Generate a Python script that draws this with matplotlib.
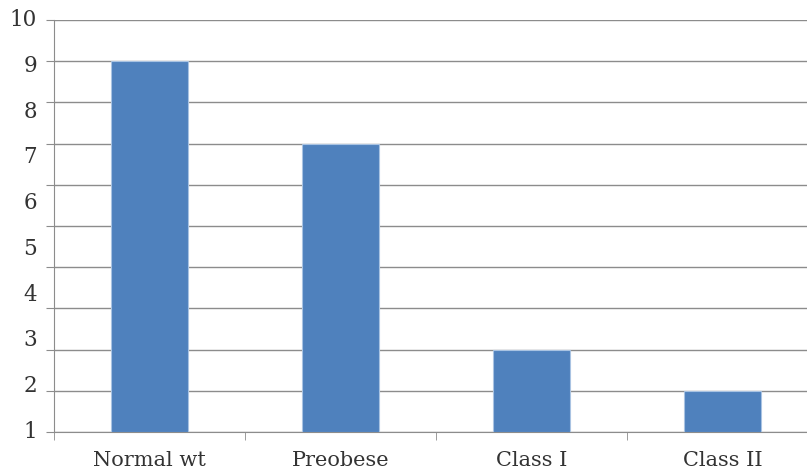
import matplotlib.pyplot as plt
import matplotlib.transforms as mtransforms
import numpy as np

categories = ["Normal wt", "Preobese", "Class I", "Class II"]
counts = [9, 7, 2, 1]
grid_levels = list(range(0, 11))
y_labels = [str(v) for v in range(1, 11)]

plt.rcParams['font.family'] = ['DejaVu Serif', 'Liberation Serif']

fig = plt.figure(figsize=(8.07, 4.69), dpi=100)
ax = fig.add_axes([54 / 807, 37 / 469, 764 / 807, 412 / 469])

x = np.arange(len(categories))
ax.bar(x, counts, width=0.4, color="#4f81bd", edgecolor="#a9c3e2",
       linewidth=0.8, zorder=3)

ax.set_xlim(-0.5, len(categories) - 0.5)
ax.set_ylim(0, 10)
ax.set_yticks(grid_levels)
ax.set_yticklabels([])
ax.grid(axis="y", color="#8c8c8c", linewidth=1, zorder=0)

# y labels spread evenly along the axis height
trans = mtransforms.blended_transform_factory(fig.transFigure, ax.transAxes)
n = len(y_labels)
for i, lab in enumerate(y_labels):
    ax.text(37 / 807, i / (n - 1), lab, transform=trans, ha="right",
            va="center", fontsize=15.5, color="#333333")

# category labels centred, tick marks on the boundaries
ax.set_xticks(x)
ax.set_xticklabels(categories, fontsize=15, color="#333333")
ax.set_xticks(np.arange(-0.5, len(categories)), minor=True)
ax.tick_params(axis="x", which="major", length=0, pad=14)
ax.tick_params(axis="x", which="minor", length=6, color="#8c8c8c")
ax.tick_params(axis="y", length=6, color="#8c8c8c")

for side in ["top", "right"]:
    ax.spines[side].set_visible(False)
for side in ["left", "bottom"]:
    ax.spines[side].set_color("#8c8c8c")

fig.savefig("out.png", dpi=100)
